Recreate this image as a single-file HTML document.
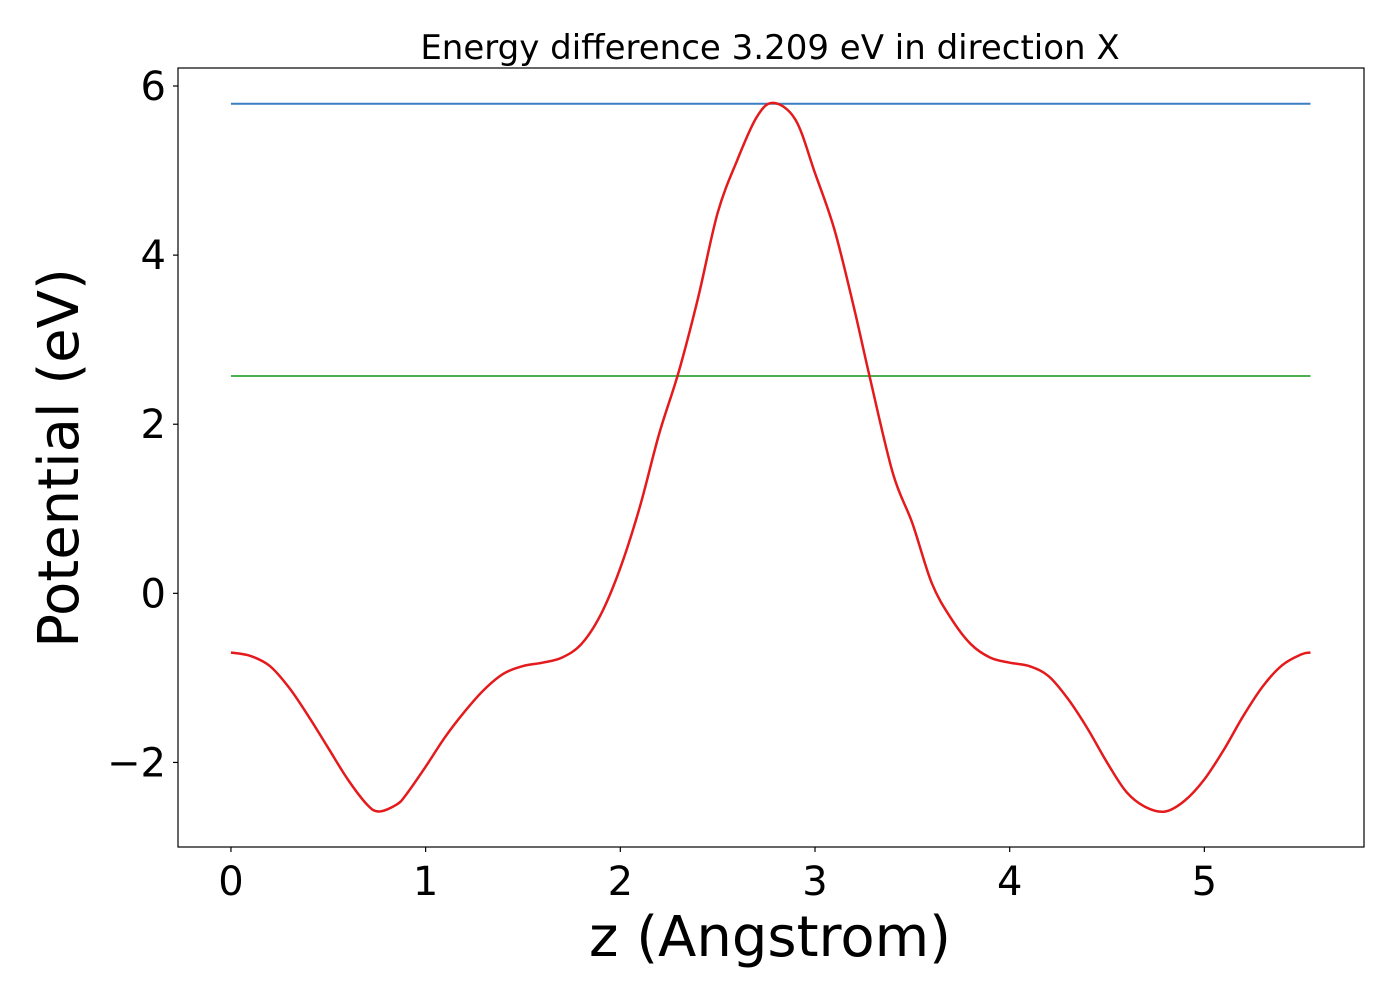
<!DOCTYPE html>
<html><head><meta charset="utf-8"><style>
html,body{margin:0;padding:0;background:#fff;}
svg text{font-family:"DejaVu Sans","Liberation Sans",sans-serif;fill:#000;}
</style></head><body>
<svg id="chart" width="1400" height="1000" viewBox="0 0 1400 1000" xmlns="http://www.w3.org/2000/svg">
<rect x="0" y="0" width="1400" height="1000" fill="#fff"/>
<text x="770" y="59" font-size="34" text-anchor="middle">Energy difference 3.209 eV in direction X</text>
<g id="plot"></g>
<text x="770" y="956" font-size="56" text-anchor="middle">z (Angstrom)</text>
<text transform="translate(78,458) rotate(-90)" font-size="56" text-anchor="middle">Potential (eV)</text>
</svg>
<script>
const xs = [0,0.1,0.2,0.3,0.4,0.5,0.6,0.7,0.76,0.85,0.9,1.0,1.1,1.2,1.3,1.4,1.5,1.6,1.7,1.8,1.9,2.0,2.1,2.2,2.3,2.4,2.5,2.6,2.7,2.785,2.9,3.0,3.1,3.2,3.28,3.4,3.5,3.6,3.7,3.8,3.9,4.0,4.1,4.2,4.3,4.4,4.5,4.6,4.7,4.8,4.9,5.0,5.1,5.2,5.3,5.4,5.5,5.545];
const potential = [-0.70,-0.74,-0.86,-1.12,-1.46,-1.83,-2.2,-2.5,-2.58,-2.5,-2.38,-2.05,-1.7,-1.4,-1.14,-0.95,-0.86,-0.82,-0.76,-0.6,-0.25,0.3,1.02,1.89,2.62,3.5,4.5,5.12,5.63,5.80,5.6,4.97,4.3,3.38,2.57,1.42,0.83,0.12,-0.3,-0.6,-0.76,-0.82,-0.86,-0.98,-1.25,-1.6,-2.0,-2.35,-2.53,-2.58,-2.45,-2.2,-1.85,-1.45,-1.1,-0.85,-0.72,-0.70];
const maxLevel = 5.79;
const meanLevel = 2.57;
const lineStart = 0, lineEnd = 5.545;
const xTicks = [0,1,2,3,4,5];
const yTicks = [-2,0,2,4,6];
const yTickLabels = ["\u22122","0","2","4","6"];

const L=178,R=1364,T=68,B=847;
const xMin=-0.272,xMax=5.82,yMin=-3.0,yMax=6.213;
const sx=v=>L+(v-xMin)/(xMax-xMin)*(R-L);
const sy=v=>B-(v-yMin)/(yMax-yMin)*(B-T);
const NS="http://www.w3.org/2000/svg";
const g=document.getElementById('plot');
function mk(t,a){const e=document.createElementNS(NS,t);for(const k in a)e.setAttribute(k,a[k]);g.appendChild(e);return e;}

let e=mk('line',{x1:sx(lineStart),x2:sx(lineEnd),y1:sy(maxLevel),y2:sy(maxLevel),stroke:'#3a7fc1','stroke-width':2});


e=mk('line',{x1:sx(lineStart),x2:sx(lineEnd),y1:sy(meanLevel),y2:sy(meanLevel),stroke:'#4caf50','stroke-width':2});



// smooth path (Catmull-Rom)
const P=xs.map((x,i)=>[sx(x),sy(potential[i])]);
let d='M'+P[0][0].toFixed(2)+','+P[0][1].toFixed(2);
for(let i=0;i<P.length-1;i++){
  const p0=P[Math.max(0,i-1)],p1=P[i],p2=P[i+1],p3=P[Math.min(P.length-1,i+2)];
  const c1=[p1[0]+(p2[0]-p0[0])/6,p1[1]+(p2[1]-p0[1])/6];
  const c2=[p2[0]-(p3[0]-p1[0])/6,p2[1]-(p3[1]-p1[1])/6];
  d+=' C'+c1.map(v=>v.toFixed(2)).join(',')+' '+c2.map(v=>v.toFixed(2)).join(',')+' '+p2.map(v=>v.toFixed(2)).join(',');
}
e=mk('path',{d:d,fill:'none',stroke:'#e41a1c','stroke-width':2.5});



e=mk('rect',{x:L,y:T,width:R-L,height:B-T,fill:'none',stroke:'#000','stroke-width':1.2});



xTicks.forEach(t=>{
  const x=sx(t);
  let l=mk('line',{x1:x,x2:x,y1:B,y2:B+5,stroke:'#000','stroke-width':1.2});
  
  
  let tx=mk('text',{x:x,y:B+48,'font-size':40,'text-anchor':'middle'});
  tx.textContent=String(t);
  
  
});
yTicks.forEach((t,i)=>{
  const y=sy(t);
  let l=mk('line',{x1:L-5,x2:L,y1:y,y2:y,stroke:'#000','stroke-width':1.2});
  
  
  let tx=mk('text',{x:L-12,y:y+14,'font-size':40,'text-anchor':'end'});
  tx.textContent=yTickLabels[i];
  
  
});
</script>
</body></html>
